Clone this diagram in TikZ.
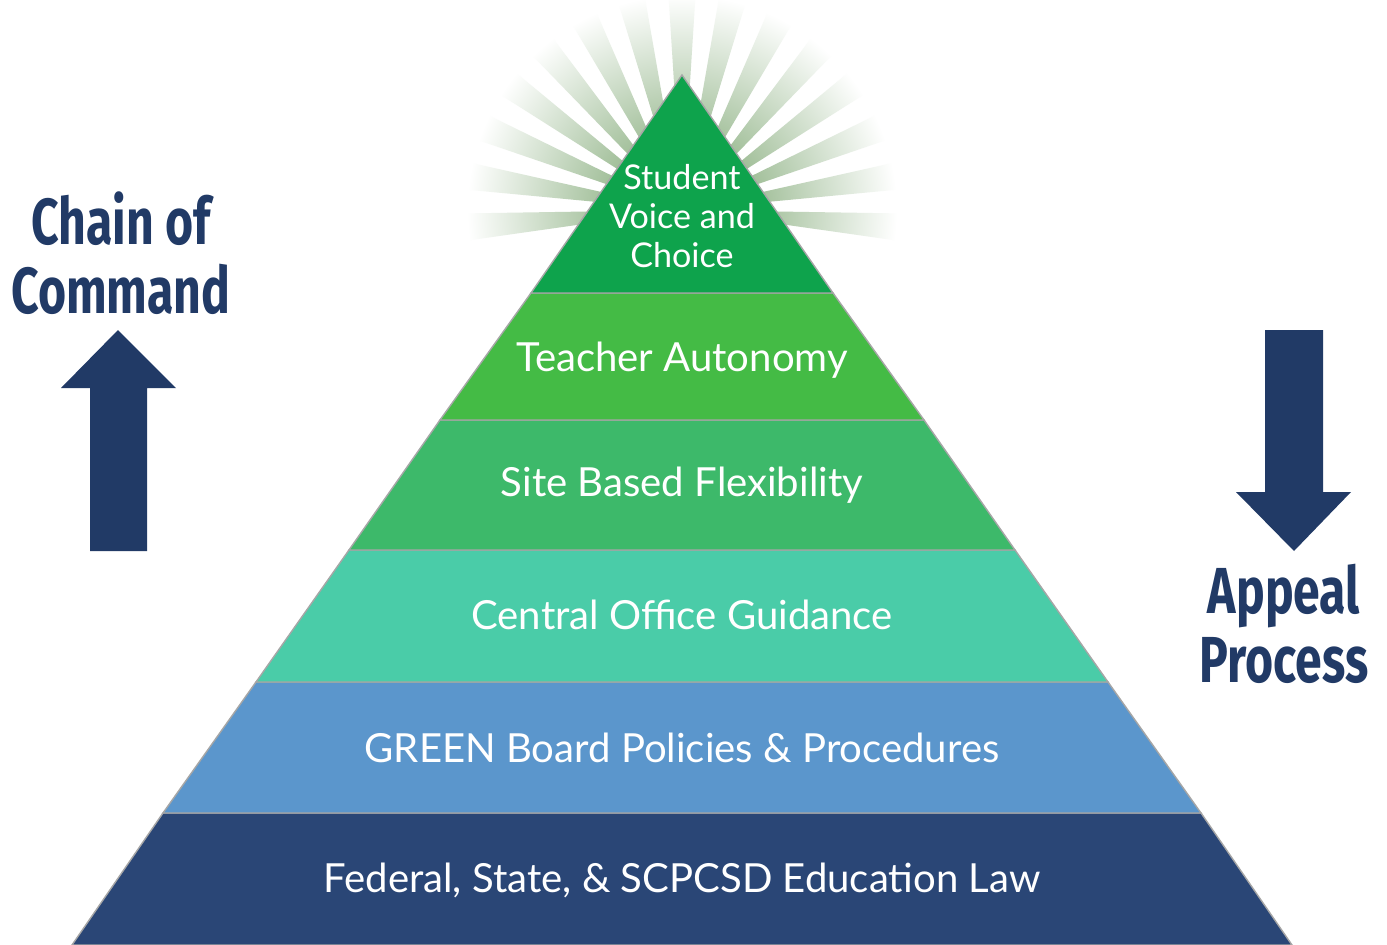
\documentclass[tikz,border=0pt]{standalone}
\usepackage{fontspec}
\setsansfont{Lato}
\newfontfamily\condfont{Fira Sans}[FakeStretch=0.74]
\usepackage{xcolor}
\usepackage{tikz}
\usetikzlibrary{calc}
\definecolor{apexgreen}{HTML}{0EA34C}
\definecolor{teachgreen}{HTML}{44BB45}
\definecolor{sitegreen}{HTML}{3DB96A}
\definecolor{officeteal}{HTML}{4ACCA8}
\definecolor{boardblue}{HTML}{5B96CC}
\definecolor{lawnavy}{HTML}{2A4676}
\definecolor{arrownavy}{HTML}{213A66}
\definecolor{raygreen}{HTML}{A3C09B}
\pgfdeclareradialshading{sunfade}{\pgfpoint{0bp}{0bp}}{color(0bp)=(raygreen); color(9bp)=(raygreen); color(25bp)=(white); color(50bp)=(white)}
\tikzset{
	layer/.style={fill=#1,draw=black!35,line width=0.4pt},
	layertext/.style={text=white,font=\sffamily\fontsize{11.4}{13}\selectfont,align=center},
	sidetext/.style={text=arrownavy,font=\condfont\bfseries\fontsize{18.5}{19.5}\selectfont,align=center},
	blockarrow/.style={fill=arrownavy}
}

\begin{document}
\begin{tikzpicture}[x=0.01cm,y=-0.01cm,font=\sffamily]
	\useasboundingbox[fill=white] (0,0) rectangle (1387,945);
	\coordinate (sun) at (682,210);
	% rays behind the top
	\begin{scope}
		\clip foreach \a in {-4.5,9,...,185} {(sun) -- ($(sun)+(-\a+3.6:260)$) -- ($(sun)+(-\a-3.6:260)$) -- cycle};
		\shade[shading=sunfade] (sun) circle (215);
	\end{scope}
	% pyramid layers
	\path[layer=lawnavy] (163,813) -- (1201,813) -- (1292,945) -- (72,945) -- cycle;
	\path[layer=boardblue] (256,682) -- (1108,682) -- (1201,813) -- (163,813) -- cycle;
	\path[layer=officeteal] (349,550) -- (1015,550) -- (1108,682) -- (256,682) -- cycle;
	\path[layer=sitegreen] (440,420) -- (924,420) -- (1015,550) -- (349,550) -- cycle;
	\path[layer=teachgreen] (531,293) -- (833,293) -- (924,420) -- (440,420) -- cycle;
	\path[layer=apexgreen] (682,75) -- (833,293) -- (531,293) -- cycle;
	\node[layertext,font=\sffamily\fontsize{9.7}{11.1}\selectfont] (lay1) at (682,216) {Student\\Voice and\\Choice};
	\node[layertext] (lay2) at (682,360) {Teacher Autonomy};
	\node[layertext] (lay3) at (682,485) {Site Based Flexibility};
	\node[layertext] (lay4) at (682,615) {Central Office Guidance};
	\node[layertext] (lay5) at (682,748) {GREEN Board Policies \& Procedures};
	\node[layertext] (lay6) at (682,880) {Federal, State, \& SCPCSD Education Law};
	% side labels and arrows
	\node[sidetext] (chain) at (121,253) {Chain of\\Command};
	\node[sidetext] (appeal) at (1284,624) {Appeal\\Process};
	\fill[blockarrow] (118,330) -- (176,388) -- (147,388) -- (147,551) -- (90,551) -- (90,388) -- (61,388) -- cycle;
	\fill[blockarrow] (1294,551) -- (1351,492) -- (1323,492) -- (1323,330) -- (1265,330) -- (1265,492) -- (1236,492) -- cycle;
\end{tikzpicture}
\end{document}
